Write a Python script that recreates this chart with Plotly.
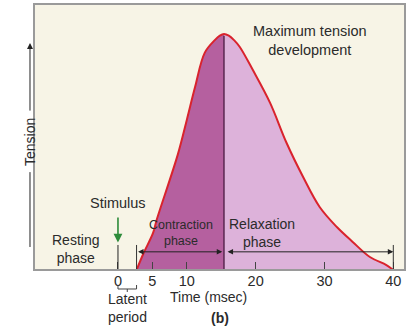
import plotly.graph_objects as go

# Muscle twitch myogram: tension vs. time after a single stimulus
rise_time = [2.7, 3.7, 5.1, 5.6, 8.7, 10.0, 11.2, 12.6, 14.1, 14.8, 15.4]
rise_tension = [0, 7, 15.7, 21, 49, 63.6, 77.5, 92, 97.5, 99.3, 100]

fall_time = [15.4, 16.1, 16.9, 17.7, 19.6, 22.1, 24.5, 26.9, 29.3, 31.8, 34.1,
             36.6, 39.0, 40.0]
fall_tension = [100, 99.3, 97.3, 94.5, 84.7, 70.8, 53.8, 39.4, 26.7, 18.2, 11.9,
                5.5, 2.1, 0]

tick_vals = [0, 5, 10, 20, 30, 40]
tick_text = ["0", "5", "10", "20", "30", "40"]

stimulus_time = 0
latent_end = rise_time[0]
peak_time = rise_time[-1]
peak_tension = rise_tension[-1]
twitch_end = fall_time[-1]

FONT = "Liberation Sans, Arial, Helvetica, sans-serif"
TXT = "#2b2b2b"
BG = "#F7F4E6"
DARK = "#B5609F"
LIGHT = "#DDB2DA"
RED = "#D9232D"

fig = go.Figure()

# contraction phase (stimulus-to-peak) fill
fig.add_trace(go.Scatter(
    x=rise_time, y=rise_tension, mode="lines",
    line=dict(color=DARK, width=0, shape="spline", smoothing=1.0),
    fill="tozeroy", fillcolor=DARK, hoverinfo="skip"))

# relaxation phase fill
fig.add_trace(go.Scatter(
    x=fall_time, y=fall_tension, mode="lines",
    line=dict(color=LIGHT, width=0, shape="spline", smoothing=1.0),
    fill="tozeroy", fillcolor=LIGHT, hoverinfo="skip"))

# divider at peak tension
fig.add_trace(go.Scatter(
    x=[peak_time, peak_time], y=[0, peak_tension - 0.8], mode="lines",
    line=dict(color="#5a2650", width=1.5), hoverinfo="skip"))

# the whole twitch curve as one smooth outline
fig.add_trace(go.Scatter(
    x=rise_time + fall_time[1:], y=rise_tension + fall_tension[1:],
    mode="lines", line=dict(color=RED, width=2, shape="spline", smoothing=1.0),
    hoverinfo="skip", cliponaxis=False))

marker_top = 10.6
arrow_y = 7.7
shapes = [
    # stimulus marker and phase end markers
    dict(type="line", xref="x", yref="y", x0=stimulus_time, x1=stimulus_time,
         y0=0, y1=marker_top, line=dict(color="#222", width=1)),
    dict(type="line", xref="x", yref="y", x0=latent_end, x1=latent_end,
         y0=0, y1=marker_top, line=dict(color="#333", width=1)),
    dict(type="line", xref="x", yref="y", x0=twitch_end, x1=twitch_end,
         y0=0, y1=marker_top, line=dict(color="#333", width=1)),
    # latent period bracket
    dict(type="path", xref="x", yref="paper",
         path=f"M {stimulus_time},-0.0564 L {stimulus_time},-0.0714 "
              f"L {latent_end},-0.0714 L {latent_end},-0.0564",
         line=dict(color="#444", width=1)),
    dict(type="line", xref="x", yref="paper",
         x0=latent_end / 2, x1=latent_end / 2, y0=-0.0714, y1=-0.0827,
         line=dict(color="#444", width=1)),
    # tension axis line below the label
    dict(type="line", xref="paper", yref="paper", x0=-0.0108, x1=-0.0108,
         y0=0.0865, y1=0.368, line=dict(color="#222", width=1)),
    # chart frame
    dict(type="rect", xref="paper", yref="paper", x0=0, x1=1, y0=0, y1=1,
         line=dict(color="#9a9a9a", width=2), layer="above"),
]

annotations = []


def label(text, x, y, size=14, xref="x", yref="y", bold=False):
    body = "<br>".join(f"<b>{p}</b>" if bold else p for p in text.split("\n"))
    annotations.append(dict(
        x=x, y=y, xref=xref, yref=yref, text=body, showarrow=False,
        xanchor="center", yanchor="middle", align="center",
        font=dict(family=FONT, size=size, color=TXT)))


label("Maximum tension\ndevelopment", 27.9, 97.2, size=14.5)
label("Stimulus", stimulus_time, 28.4, size=14.5)
label("Resting\nphase", -6.2, 9.1)
label("Contraction\nphase", 9.2, 15.5, size=12.5)
label("Relaxation\nphase", 20.9, 15.5)
# labels below the time axis are placed in paper units
label("Time (msec)", 13.1, -0.100, yref="paper")
label("(b)", 14.8, -0.180, yref="paper", bold=True)
label("Latent\nperiod", latent_end / 2, -0.142, yref="paper", size=14)
annotations.append(dict(
    x=-0.0108, y=0.481, xref="paper", yref="paper", text="Tension",
    showarrow=False, textangle=-90, xanchor="center", yanchor="middle",
    font=dict(family=FONT, size=14, color=TXT)))

# tension axis arrow
annotations.append(dict(
    x=-0.0108, y=0.853, xref="paper", yref="paper", text="",
    showarrow=True, axref="pixel", ayref="pixel", ax=0, ay=69,
    arrowhead=2, arrowsize=1.2, arrowwidth=1, arrowcolor="#222"))

# stimulus arrow
annotations.append(dict(
    x=stimulus_time, y=11.6, xref="x", yref="y", text="",
    showarrow=True, axref="x", ayref="y", ax=stimulus_time, ay=22.9,
    arrowhead=2, arrowsize=1.1, arrowwidth=1.6, arrowcolor="#2E8B3A"))

# phase duration arrows
for x0, x1 in [(latent_end, peak_time - 0.25), (peak_time + 0.3, twitch_end)]:
    annotations.append(dict(
        x=x1, y=arrow_y, xref="x", yref="y", text="",
        showarrow=True, axref="x", ayref="y", ax=x0, ay=arrow_y,
        arrowside="end+start", arrowhead=2, arrowsize=1.1, arrowwidth=1,
        arrowcolor="#222"))

fig.update_layout(
    width=410, height=326,
    margin=dict(l=34, r=5, t=4, b=56),
    paper_bgcolor="white", plot_bgcolor=BG,
    showlegend=False,
    shapes=shapes, annotations=annotations,
    xaxis=dict(range=[-12.2, 41.7], tickvals=tick_vals, ticktext=tick_text,
               ticks="inside", ticklen=8, tickcolor="#444", tickwidth=1,
               showgrid=False, zeroline=False, showline=False,
               tickfont=dict(family=FONT, size=14.5, color=TXT)),
    yaxis=dict(range=[0, 112.7], showticklabels=False, ticks="",
               showgrid=False, zeroline=False, showline=False),
)

fig.write_html("out.html")
